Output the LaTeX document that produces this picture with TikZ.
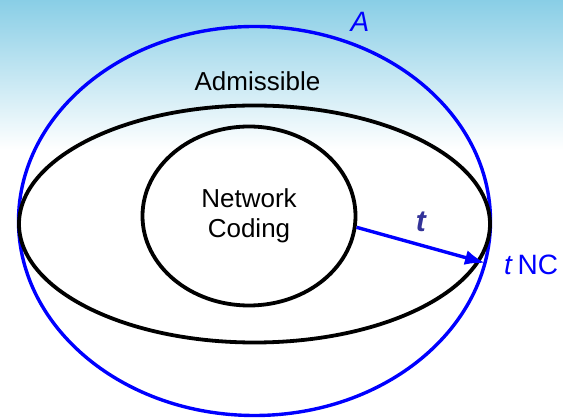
\documentclass[tikz,border=0pt]{standalone}
\usepackage{fontspec}
\setmainfont{Liberation Sans}
\usetikzlibrary{shapes.geometric, arrows.meta}
\definecolor{skytop}{RGB}{137,206,230}
\definecolor{tlabel}{RGB}{51,51,153}
\tikzstyle{region} = [ellipse, draw=black, line width=3.8pt, inner sep=0pt]
\tikzstyle{bound} = [ellipse, draw=blue, line width=3.4pt, inner sep=0pt]
\tikzstyle{lbl} = [font=\fontsize{26}{30}\selectfont, inner sep=0pt]
\tikzstyle{arrow} = [line width=3.4pt, blue, -{Latex[length=20pt,width=15pt]}]

\begin{document}
\begin{tikzpicture}[x=1pt, y=-1pt]
\useasboundingbox (0,0) rectangle (563,419);
% Background
\shade [top color=skytop, bottom color=white] (0,0) rectangle (563,150);

% Nodes
\node (achievable) [bound, minimum width=472pt, minimum height=389pt] at (254.5,221) {};
\node (admissible) [region, minimum width=471pt, minimum height=237pt] at (254.5,224) {};
\node (coding) [region, minimum width=213pt, minimum height=179pt, align=center, lbl] at (249,216) {Network\\Coding};
\node (admlabel) [lbl] at (257.5,81) {Admissible};
\node (alabel) [lbl, blue, font=\fontsize{28}{30}\selectfont\itshape] at (360,22) {A};
\coordinate (tnc) at (485,263);
\node (tnclabel) [lbl, blue, anchor=west, font=\fontsize{28}{30}\selectfont] at (504,265) {\textit{t}\,NC};

% Arrows
\draw [arrow] (coding.-6) -- (tnc) node [midway, above=12pt, lbl, tlabel, font=\fontsize{30}{30}\selectfont\bfseries\itshape] (tlab) {t};

\end{tikzpicture}
\end{document}
